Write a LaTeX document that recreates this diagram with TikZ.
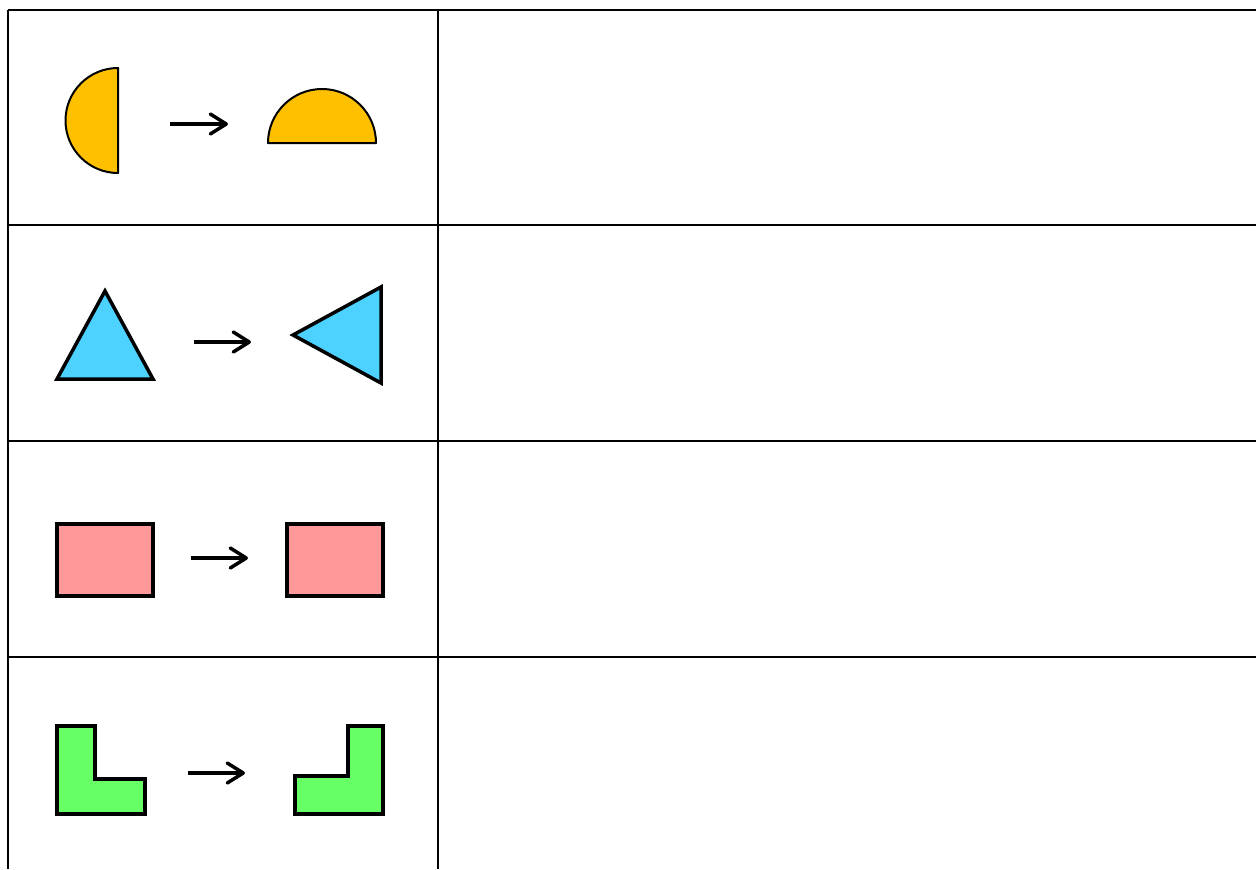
\documentclass[tikz,border=0pt]{standalone}
\usepackage{xcolor}
\usepackage{tikz}
\usetikzlibrary{arrows.meta}

\definecolor{shapeyellow}{HTML}{FFC000}
\definecolor{shapecyan}{HTML}{4DD2FF}
\definecolor{shapepink}{HTML}{FF9999}
\definecolor{shapegreen}{HTML}{66FF66}

\begin{document}
\begin{tikzpicture}[
  x=0.5pt, y=-0.5pt,
  grid/.style={draw=black, line width=1.2pt},
  thinshape/.style={draw=black, line width=1pt, line join=round},
  thickshape/.style={draw=black, line width=1.75pt, line join=miter},
  arr/.style={-{Straight Barb[length=8pt, width=10pt, round]}, line width=1.75pt}
]
\useasboundingbox (0,0) rectangle (1256,869);

% ---- Table grid ----
\foreach \y in {10, 225, 441, 657}
  \draw[grid] (8,\y) -- (1256,\y);
\foreach \x in {8, 438}
  \draw[grid] (\x,10) -- (\x,869);

% ---- Row 1: half discs ----
\filldraw[thinshape, fill=shapeyellow]
  (118,68) arc[start angle=-90, end angle=-270, radius=52.5] -- cycle;
\filldraw[thinshape, fill=shapeyellow]
  (268,143) arc[start angle=180, end angle=360, radius=54] -- cycle;
\coordinate (a1s) at (170,124);
\coordinate (a1e) at (228,124);
\draw[arr] (a1s) -- (a1e);

% ---- Row 2: triangles ----
\filldraw[thickshape, fill=shapecyan] (105,291) -- (153,379) -- (57,379) -- cycle;
\filldraw[thickshape, fill=shapecyan] (381,287) -- (381,383) -- (293,335) -- cycle;
\coordinate (a2s) at (194,342);
\coordinate (a2e) at (251,342);
\draw[arr] (a2s) -- (a2e);

% ---- Row 3: rectangles ----
\filldraw[thickshape, fill=shapepink] (57,524) rectangle (153,596);
\filldraw[thickshape, fill=shapepink] (287,524) rectangle (383,596);
\coordinate (a3s) at (191,558);
\coordinate (a3e) at (248,558);
\draw[arr] (a3s) -- (a3e);

% ---- Row 4: L shapes ----
\filldraw[thickshape, fill=shapegreen]
  (57,726) -- (95,726) -- (95,779) -- (145,779) -- (145,814) -- (57,814) -- cycle;
\filldraw[thickshape, fill=shapegreen]
  (348,726) -- (383,726) -- (383,814) -- (295,814) -- (295,776) -- (348,776) -- cycle;
\coordinate (a4s) at (188,773);
\coordinate (a4e) at (245,773);
\draw[arr] (a4s) -- (a4e);

\end{tikzpicture}
\end{document}
